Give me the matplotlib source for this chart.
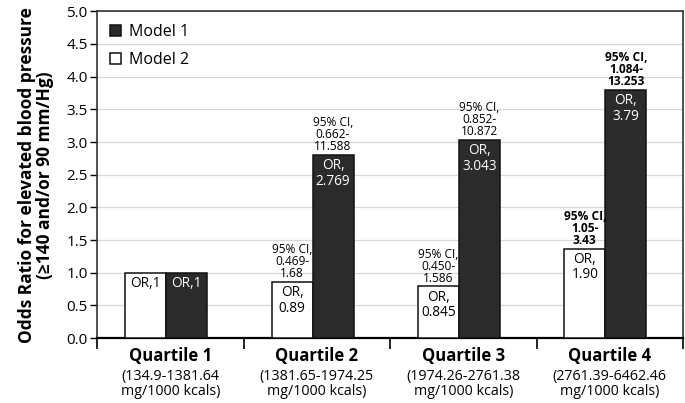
import matplotlib.pyplot as plt
import numpy as np

plt.rcParams['font.family'] = ['Open Sans', 'DejaVu Sans']

quartiles = ['Quartile 1', 'Quartile 2', 'Quartile 3', 'Quartile 4']
ranges = ['(134.9-1381.64\nmg/1000 kcals)', '(1381.65-1974.25\nmg/1000 kcals)',
          '(1974.26-2761.38\nmg/1000 kcals)', '(2761.39-6462.46\nmg/1000 kcals)']
# bar heights as drawn in the figure
model1 = [1.0, 2.8, 3.03, 3.8]
model2 = [1.0, 0.86, 0.79, 1.37]
or1 = ['OR,1', 'OR,\n2.769', 'OR,\n3.043', 'OR,\n3.79']
or2 = ['OR,1', 'OR,\n0.89', 'OR,\n0.845', 'OR,\n1.90']
ci1 = [None, '95% CI,\n0.662-\n11.588', '95% CI,\n0.852-\n10.872', '95% CI,\n1.084-\n13.253']
ci2 = [None, '95% CI,\n0.469-\n1.68', '95% CI,\n0.450-\n1.586', '95% CI,\n1.05-\n3.43']
ci_bold = [False, False, False, True]

fig = plt.figure(figsize=(6.85, 4.03), dpi=100)
ax = fig.add_axes([0.142, 0.161, 0.855, 0.811])

x = np.arange(len(quartiles)) - 0.03
w = 0.28
dark = '#2b2b2b'
b2 = ax.bar(x - w / 2, model2, w, color='white', edgecolor='#111111', linewidth=1.1, label='Model 2', zorder=3)
b1 = ax.bar(x + w / 2, model1, w, color=dark, edgecolor='#111111', linewidth=1.1, label='Model 1', zorder=3)

for i in range(len(quartiles)):
    if i == 0:
        ax.text(x[i] - w / 2, model2[i] - 0.17, or2[i], ha='center', va='center', fontsize=9.8, color='black', zorder=4)
        ax.text(x[i] + w / 2, model1[i] - 0.17, or1[i], ha='center', va='center', fontsize=9.8, color='white', zorder=4)
        continue
    ax.text(x[i] - w / 2, model2[i] - 0.05, or2[i], ha='center', va='top', fontsize=9.8, color='black',
            linespacing=1.05, zorder=4)
    ax.text(x[i] + w / 2, model1[i] - 0.05, or1[i], ha='center', va='top', fontsize=9.8, color='white',
            linespacing=1.05, zorder=4)
    fw = 'bold' if ci_bold[i] else 'normal'
    ax.text(x[i] - w / 2, model2[i] + 0.03, ci2[i], ha='center', va='bottom', fontsize=8.6, fontweight=fw,
            linespacing=0.9, zorder=4)
    ax.text(x[i] + w / 2, model1[i] + 0.03, ci1[i], ha='center', va='bottom', fontsize=8.6, fontweight=fw,
            linespacing=0.9, zorder=4)

ax.set_xlim(-0.5, 3.5)
ax.set_ylim(0, 5)
ax.set_yticks(np.arange(0, 5.01, 0.5))
ax.set_yticklabels([f'{v:.1f}' for v in np.arange(0, 5.01, 0.5)], fontsize=11)
ax.yaxis.grid(True, color='#d8d8d8', linewidth=0.9, zorder=0)
ax.set_axisbelow(True)
ax.tick_params(axis='y', length=5, width=1, direction='out', pad=2)

ax.set_xticks([-0.5, 0.5, 1.5, 2.5, 3.5])
ax.set_xticklabels([])
ax.tick_params(axis='x', length=8, width=1.2, direction='out')
for i, (q, r) in enumerate(zip(quartiles, ranges)):
    ax.text(i, -0.13, q, ha='center', va='top', fontsize=12, fontweight='bold')
    ax.text(i, -0.48, r, ha='center', va='top', fontsize=10.3, linespacing=0.95)

for s in ax.spines.values():
    s.set_color('#333333')
    s.set_linewidth(1.2)
ax.spines['bottom'].set_linewidth(1.6)
ax.spines['bottom'].set_color('black')

ax.set_ylabel('Odds Ratio for elevated blood pressure\n(\u2265140 and/or 90 mm/Hg)', fontsize=12.5,
              fontweight='bold', linespacing=1.0, labelpad=9)

ax.legend(handles=[b1, b2], loc='upper left', frameon=False, fontsize=11.5, handlelength=0.7,
          handleheight=0.7, handletextpad=0.5, labelspacing=0.75, borderaxespad=0.4)

fig.savefig('out.png', dpi=100)
